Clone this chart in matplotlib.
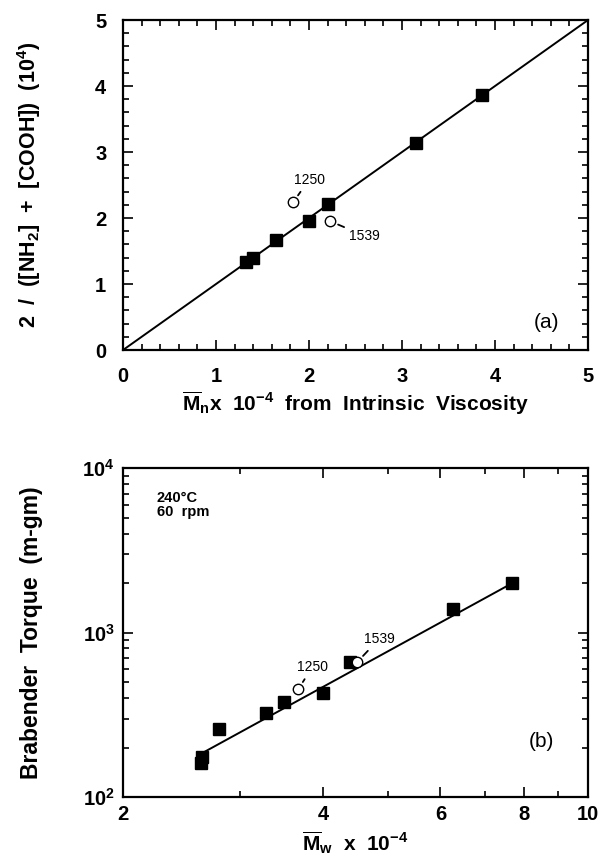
import matplotlib
matplotlib.use("Agg")
import matplotlib.pyplot as plt
from matplotlib.ticker import FixedLocator, MultipleLocator, LogLocator, NullFormatter

plt.rcParams['font.family'] = ['Liberation Sans', 'DejaVu Sans']
plt.rcParams['mathtext.fontset'] = 'custom'
plt.rcParams['mathtext.rm'] = 'Liberation Sans:bold'
plt.rcParams['mathtext.bf'] = 'Liberation Sans:bold'
plt.rcParams['mathtext.it'] = 'Liberation Sans:bold'
plt.rcParams['mathtext.default'] = 'rm'

# (a) end group Mn vs Mn from intrinsic viscosity
mn_visc = [1.32, 1.40, 1.65, 2.00, 2.20, 3.15, 3.86]
mn_end = [1.33, 1.40, 1.67, 1.96, 2.21, 3.14, 3.86]
mn_visc_open = [1.83, 2.23]
mn_end_open = [2.24, 1.95]
open_labels = ['1250', '1539']
open_text_a = [(2.00, 2.58), (2.60, 1.73)]
line_a = [0, 5]

# (b) Brabender torque vs Mw
mw = [2.62, 2.63, 2.79, 3.28, 3.49, 4.00, 4.38, 6.27, 7.68]
torque = [162, 176, 259, 324, 378, 429, 660, 1390, 2000]
mw_open = [3.67, 4.50]
torque_open = [453, 662]
open_text_b = [(3.85, 617), (4.85, 913)]
fit_mw = [2.65, 7.70]
fit_torque = [188, 2000]

fig = plt.figure(figsize=(6.01, 8.56), dpi=100)
ax1 = fig.add_axes([0.2047, 0.5911, 0.7737, 0.3855])
ax2 = fig.add_axes([0.2047, 0.0689, 0.7737, 0.3843])

# ---- panel (a)
ax1.plot(line_a, line_a, color='black', lw=1.4, zorder=1)
ax1.plot(mn_visc, mn_end, 's', color='black', ms=8.5, zorder=3)
ax1.plot(mn_visc_open, mn_end_open, 'o', mfc='white', mec='black', mew=1.0, ms=7.5, zorder=3)
for x, y, lab, (tx, ty) in zip(mn_visc_open, mn_end_open, open_labels, open_text_a):
    ax1.annotate(lab, xy=(x, y), xytext=(tx, ty), ha='center', va='center', fontsize=10,
                 arrowprops=dict(arrowstyle='-', color='black', lw=1.3, shrinkA=2, shrinkB=6))
ax1.set_xlim(0, 5)
ax1.set_ylim(0, 5)
ax1.xaxis.set_major_locator(MultipleLocator(1))
ax1.yaxis.set_major_locator(MultipleLocator(1))
ax1.xaxis.set_minor_locator(MultipleLocator(0.2))
ax1.yaxis.set_minor_locator(MultipleLocator(0.2))
ax1.set_xlabel(r'$\overline{M}_n$x  10$^{-4}$  from  Intrinsic  Viscosity', fontsize=15, fontweight='bold')
ax1.set_ylabel(r'2  /  ([NH$_2$]  +  [COOH])  (10$^4$)', fontsize=15.5, fontweight='bold')
ax1.text(4.55, 0.42, '(a)', fontsize=15, ha='center', va='center')
ax1.tick_params(which='major', labelsize=14.5)
ax1.tick_params(axis='x', which='major', pad=12)
ax1.tick_params(axis='y', which='major', pad=12)
ax1.xaxis.set_label_coords(0.5, -0.12)

# ---- panel (b)
ax2.set_xscale('log')
ax2.set_yscale('log')
ax2.plot(fit_mw, fit_torque, color='black', lw=1.4, zorder=1)
ax2.plot(mw, torque, 's', color='black', ms=8.5, zorder=2)
ax2.plot(mw_open, torque_open, 'o', mfc='white', mec='black', mew=1.0, ms=7.5, zorder=3)
for x, y, lab, (tx, ty) in zip(mw_open, torque_open, open_labels, open_text_b):
    ax2.annotate(lab, xy=(x, y), xytext=(tx, ty), ha='center', va='center', fontsize=10,
                 arrowprops=dict(arrowstyle='-', color='black', lw=1.3, shrinkA=2, shrinkB=6))
ax2.set_xlim(2, 10)
ax2.set_ylim(100, 10000)
ax2.xaxis.set_major_locator(FixedLocator([2, 4, 6, 8, 10]))
ax2.xaxis.set_minor_locator(FixedLocator([3, 5, 7, 9]))
ax2.xaxis.set_minor_formatter(NullFormatter())
ax2.set_xticklabels(['2', '4', '6', '8', '10'])
ax2.yaxis.set_major_locator(FixedLocator([100, 1000, 10000]))
ax2.yaxis.set_minor_locator(LogLocator(base=10, subs=range(2, 10)))
ax2.yaxis.set_minor_formatter(NullFormatter())
ax2.set_yticklabels(['10$^2$', '10$^3$', '10$^4$'])
ax2.set_xlabel(r'$\overline{M}_w$  x  10$^{-4}$', fontsize=15, fontweight='bold')
ax2.set_ylabel('Brabender  Torque  (m-gm)', fontsize=16.5, fontweight='bold')
ax2.text(0.072, 0.93, '240°C\n60  rpm', transform=ax2.transAxes, fontsize=10.5,
         fontweight='bold', ha='left', va='top', linespacing=1.0)
ax2.text(0.90, 0.17, '(b)', transform=ax2.transAxes, fontsize=15, ha='center', va='center')
ax2.tick_params(which='major', labelsize=14.5, pad=6)
ax2.xaxis.set_label_coords(0.5, -0.098)

for ax in (ax1, ax2):
    for s in ax.spines.values():
        s.set_linewidth(1.6)
    ax.tick_params(which='both', direction='in', top=True, right=True, width=1.2)
    ax.tick_params(which='major', length=7)
    ax.tick_params(which='minor', length=4)
    for lab in ax.get_xticklabels() + ax.get_yticklabels():
        lab.set_fontweight('bold')
    ax.yaxis.set_label_coords(-0.172, 0.5)

fig.savefig('out.png', dpi=100)
